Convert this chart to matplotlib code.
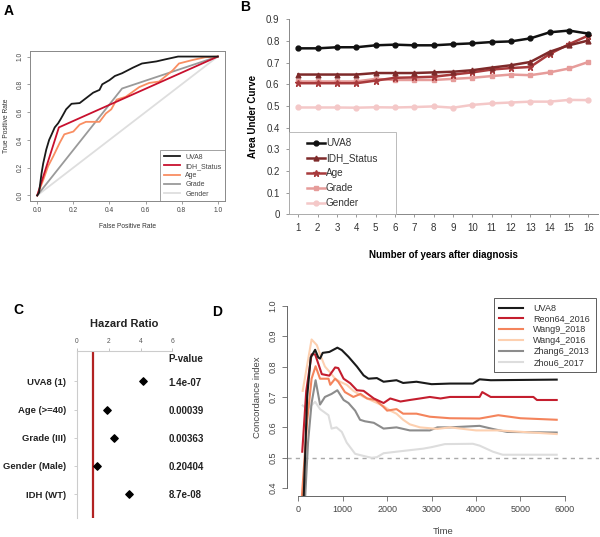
import matplotlib
matplotlib.use("Agg")
import matplotlib.pyplot as plt
from matplotlib.lines import Line2D

plt.rcParams['font.family'] = ['Liberation Sans', 'DejaVu Sans']

W, H = 600, 537

# ---------------- Panel A data (ROC) ----------------
roc_uva8_fpr = [0, 0.01, 0.024, 0.033, 0.05, 0.066, 0.08, 0.097, 0.116, 0.13, 0.143, 0.16, 0.19,
                0.235, 0.27, 0.31, 0.345, 0.36, 0.40, 0.43, 0.47, 0.53, 0.58, 0.66, 0.71, 0.78, 1.0]
roc_uva8_tpr = [0, 0.02, 0.16, 0.23, 0.33, 0.40, 0.44, 0.49, 0.52, 0.55, 0.58, 0.62, 0.66,
                0.665, 0.70, 0.74, 0.76, 0.80, 0.83, 0.86, 0.88, 0.92, 0.95, 0.965, 0.98, 1.0, 1.0]
roc_idh_fpr = [0, 0.12, 1.0]
roc_idh_tpr = [0, 0.49, 1.0]
roc_age_fpr = [0, 0.033, 0.06, 0.088, 0.125, 0.15, 0.2, 0.235, 0.27, 0.345, 0.38, 0.41, 0.44,
               0.49, 0.565, 0.62, 0.675, 0.75, 0.785, 0.86, 0.93, 1.0]
roc_age_tpr = [0, 0.11, 0.21, 0.28, 0.38, 0.44, 0.46, 0.51, 0.53, 0.53, 0.59, 0.62, 0.69,
               0.71, 0.78, 0.81, 0.82, 0.90, 0.95, 0.975, 0.995, 1.0]
roc_grade_fpr = [0, 0.47, 1.0]
roc_grade_tpr = [0, 0.77, 1.0]
roc_gender_fpr = [0, 1.0]
roc_gender_tpr = [0, 1.0]
roc_labels = ["UVA8", "IDH_Status", "Age", "Grade", "Gender"]
roc_colors = ["#1a1a1a", "#C8102E", "#F98E62", "#9a9a9a", "#DEDEDE"]

# ---------------- Panel B data (AUC by year) ----------------
years = list(range(1, 17))
auc_uva8 = [0.766, 0.766, 0.771, 0.771, 0.78, 0.783, 0.78, 0.78, 0.785, 0.789, 0.795, 0.798, 0.812, 0.84, 0.848, 0.834]
auc_idh = [0.645, 0.645, 0.645, 0.645, 0.652, 0.652, 0.652, 0.655, 0.658, 0.665, 0.677, 0.688, 0.703, 0.75, 0.78, 0.802]
auc_age = [0.605, 0.605, 0.605, 0.605, 0.617, 0.63, 0.632, 0.635, 0.645, 0.655, 0.668, 0.675, 0.68, 0.74, 0.785, 0.825]
auc_grade = [0.613, 0.613, 0.613, 0.613, 0.625, 0.62, 0.62, 0.62, 0.625, 0.63, 0.638, 0.645, 0.642, 0.655, 0.673, 0.703]
auc_gender = [0.493, 0.493, 0.493, 0.492, 0.494, 0.493, 0.495, 0.498, 0.492, 0.505, 0.512, 0.516, 0.52, 0.52, 0.528, 0.527]
auc_labels = ["UVA8", "IDH_Status", "Age", "Grade", "Gender"]
auc_colors = ["#111111", "#7E2A2A", "#A83A3C", "#E69C9A", "#F4C8C8"]
auc_markers = ["o", "^", "*", "s", "o"]

# ---------------- Panel C data (hazard ratios) ----------------
hr_labels = ["UVA8 (1)", "Age (>=40)", "Grade (III)", "Gender (Male)", "IDH (WT)"]
hr_values = [4.15, 1.87, 2.3, 1.28, 3.3]
hr_pvalues = ["1.4e-07", "0.00039", "0.00363", "0.20404", "8.7e-08"]
hr_ticks = [0, 2, 4, 6]

# ---------------- Panel D data (concordance index over time) ----------------
ci_uva8_t = [120, 200, 280, 380, 450, 490, 550, 700, 880, 980, 1130, 1320, 1470, 1580, 1770, 1920,
             2210, 2360, 2660, 3000, 3413, 3930, 4080, 4330, 5815]
ci_uva8_v = [0.36, 0.70, 0.83, 0.855, 0.83, 0.826, 0.845, 0.848, 0.862, 0.854, 0.832, 0.80, 0.771, 0.76,
             0.762, 0.75, 0.755, 0.746, 0.75, 0.742, 0.744, 0.744, 0.758, 0.755, 0.757]
ci_reon_t = [90, 180, 300, 380, 530, 700, 830, 900, 1020, 1170, 1320, 1470, 1700, 1920, 2070, 2300,
             2510, 2740, 2960, 3200, 3413, 4080, 4140, 4330, 5290, 5370, 5815]
ci_reon_v = [0.52, 0.72, 0.84, 0.84, 0.775, 0.77, 0.797, 0.795, 0.76, 0.745, 0.722, 0.72, 0.695, 0.68,
             0.695, 0.685, 0.69, 0.695, 0.70, 0.695, 0.70, 0.70, 0.716, 0.70, 0.70, 0.69, 0.69]
ci_wang9_t = [80, 200, 300, 390, 490, 680, 720, 830, 900, 1050, 1240, 1400, 1550, 1740, 1920, 2000,
              2210, 2360, 2660, 2960, 3413, 4080, 4500, 5000, 5815]
ci_wang9_v = [0.37, 0.62, 0.76, 0.801, 0.76, 0.76, 0.74, 0.76, 0.75, 0.716, 0.70, 0.71, 0.695, 0.69,
              0.667, 0.655, 0.66, 0.645, 0.645, 0.635, 0.63, 0.629, 0.64, 0.63, 0.625]
ci_wang4_t = [100, 300, 420, 490, 600, 720, 830, 940, 1090, 1240, 1470, 1700, 1920, 2070, 2210,
              2360, 2510, 2740, 3130, 3413, 4000, 4500, 5815]
ci_wang4_v = [0.72, 0.889, 0.87, 0.84, 0.80, 0.78, 0.76, 0.75, 0.74, 0.72, 0.70, 0.685, 0.67, 0.655,
              0.645, 0.625, 0.61, 0.60, 0.595, 0.60, 0.59, 0.59, 0.578]
ci_zhang6_t = [130, 220, 300, 390, 490, 600, 750, 880, 1020, 1130, 1280, 1390, 1500, 1700, 1920,
               2210, 2510, 2960, 3130, 3413, 4080, 4400, 4700, 5815]
ci_zhang6_v = [0.30, 0.55, 0.68, 0.755, 0.675, 0.70, 0.71, 0.722, 0.69, 0.68, 0.655, 0.625, 0.62,
               0.615, 0.596, 0.60, 0.59, 0.59, 0.60, 0.60, 0.605, 0.594, 0.585, 0.583]
ci_zhou6_t = [100, 200, 380, 490, 680, 750, 860, 980, 1090, 1280, 1500, 1650, 1770, 1920, 2210,
              2510, 2810, 3000, 3300, 3930, 4080, 4380, 4600, 5815]
ci_zhou6_v = [0.672, 0.66, 0.684, 0.66, 0.64, 0.596, 0.60, 0.585, 0.55, 0.513, 0.505, 0.50, 0.502,
              0.515, 0.52, 0.525, 0.53, 0.535, 0.545, 0.546, 0.54, 0.52, 0.51, 0.51]
ci_labels = ["UVA8", "Reon64_2016", "Wang9_2018", "Wang4_2016", "Zhang6_2013", "Zhou6_2017"]
ci_colors = ["#1a1a1a", "#C41E2E", "#F4845C", "#FDD0B0", "#8C8C8C", "#DDDDDD"]

fig = plt.figure(figsize=(W / 100, H / 100), dpi=100)


def ax_px(l, t, r, b):
    return fig.add_axes([l / W, 1 - b / H, (r - l) / W, (b - t) / H])


# ================= Panel A =================
axA = ax_px(30, 51, 225, 201)
series_a = [(roc_uva8_fpr, roc_uva8_tpr), (roc_idh_fpr, roc_idh_tpr), (roc_age_fpr, roc_age_tpr),
            (roc_grade_fpr, roc_grade_tpr), (roc_gender_fpr, roc_gender_tpr)]
handles_a = []
for i in [4, 3, 2, 1, 0]:
    x, y = series_a[i]
    axA.plot(x, y, color=roc_colors[i], lw=1.3, zorder=3 + (4 - i))
for i in range(5):
    handles_a.append(Line2D([], [], color=roc_colors[i], lw=1.3))
axA.set_xlim(-0.04, 1.04)
axA.set_ylim(-0.04, 1.04)
ticks01 = [0.0, 0.2, 0.4, 0.6, 0.8, 1.0]
axA.set_xticks(ticks01)
axA.set_yticks(ticks01)
axA.set_xticklabels([f"{t:.1f}" for t in ticks01], fontsize=4.8, color="#444444")
axA.set_yticklabels([f"{t:.1f}" for t in ticks01], fontsize=4.8, color="#444444", rotation=90, va="center")
axA.tick_params(length=2.5, width=0.5, color="#777777", pad=2)
for s in axA.spines.values():
    s.set_color("#888888")
    s.set_linewidth(0.7)
axA.set_xlabel("False Positive Rate", fontsize=4.8, color="#333333", labelpad=6)
axA.set_ylabel("True Positive Rate", fontsize=4.8, color="#333333", labelpad=5)
legA = axA.legend(handles_a, roc_labels, loc="lower right", fontsize=5.0, frameon=True,
                  fancybox=False, borderaxespad=0, handlelength=2.4, labelspacing=0.32,
                  borderpad=0.5, handletextpad=0.7)
legA.get_frame().set_edgecolor("#777777")
legA.get_frame().set_linewidth(0.6)
for t in legA.get_texts():
    t.set_color("#444444")

# ================= Panel B =================
axB = ax_px(288.6, 19.3, 598, 214.3)
series_b = [auc_uva8, auc_idh, auc_age, auc_grade, auc_gender]
for i in [4, 3, 2, 1, 0]:
    ms = 4.5 if auc_markers[i] == "*" else 3.5
    axB.plot(years, series_b[i], color=auc_colors[i], lw=1.8, marker=auc_markers[i], ms=ms,
             zorder=3 + (4 - i), label=auc_labels[i])
axB.set_xlim(0.5, 16.5)
axB.set_ylim(0, 0.9)
axB.set_xticks(years)
axB.set_xticklabels([str(y) for y in years], fontsize=7, color="#333333")
yt = [0, 0.1, 0.2, 0.3, 0.4, 0.5, 0.6, 0.7, 0.8, 0.9]
axB.set_yticks(yt)
axB.set_yticklabels(["0"] + [f"{v:.1f}" for v in yt[1:]], fontsize=7, color="#333333")
axB.tick_params(axis="both", length=2.5, width=0.6, color="#888888", pad=4)
axB.spines["top"].set_visible(False)
axB.spines["right"].set_visible(False)
axB.spines["left"].set_color("#888888")
axB.spines["bottom"].set_color("#888888")
axB.spines["left"].set_linewidth(0.7)
axB.spines["bottom"].set_linewidth(0.7)
axB.set_xlabel("Number of years after diagnosis", fontsize=7, fontweight="bold", labelpad=12)
axB.set_ylabel("Area Under Curve", fontsize=7, fontweight="bold", labelpad=6)
hb, lb = axB.get_legend_handles_labels()
hb = hb[::-1]
lb = lb[::-1]
legB = axB.legend(hb, lb, loc="lower left", bbox_to_anchor=(0.0, 0.0), fontsize=7.2, frameon=True,
                  fancybox=False, borderaxespad=0, handlelength=1.8, handletextpad=0.1,
                  labelspacing=0.5, borderpad=0.6)
legB.get_frame().set_edgecolor("#aaaaaa")
legB.get_frame().set_linewidth(0.7)
for t in legB.get_texts():
    t.set_color("#333333")
legB._legend_box.set_width(95)

# ================= Panel C =================
axC = ax_px(77, 350.5, 172.3, 518)
rows = list(range(len(hr_labels)))
axC.set_xlim(0, 6)
axC.set_ylim(4.85, -1.1)
axC.axvline(1, color="#B22222", lw=1.6, zorder=2)
axC.scatter(hr_values, rows, marker="D", s=14, color="black", zorder=3)
axC.set_xticks(hr_ticks)
axC.set_xticklabels([str(t) for t in hr_ticks], fontsize=4.8, color="#555555")
axC.xaxis.tick_top()
axC.tick_params(axis="x", length=2, width=0.5, color="#aaaaaa", pad=2)
axC.set_yticks(rows)
axC.set_yticklabels(hr_labels, fontsize=6.8, fontweight="bold", color="#222222")
axC.tick_params(axis="y", length=2, width=0.5, color="#bbbbbb", pad=6)
axC.spines["right"].set_visible(False)
axC.spines["bottom"].set_visible(False)
axC.spines["top"].set_color("#cccccc")
axC.spines["left"].set_color("#cccccc")
axC.spines["top"].set_linewidth(0.8)
axC.spines["left"].set_linewidth(0.8)
axC.text(5.75, -0.81, "P-value", fontsize=7, fontweight="bold", va="center", ha="left", color="#222222")
for r, p in zip(rows, hr_pvalues):
    axC.text(5.75, r + 0.04, p, fontsize=7, fontweight="bold", va="center", ha="left", color="#222222")
axC.set_title("Hazard Ratio", fontsize=8, fontweight="bold", color="#222222", pad=17)
axC.set_facecolor("none")

# ================= Panel D =================
axD = ax_px(286.7, 298.4, 598.7, 495.5)
series_d = [(ci_uva8_t, ci_uva8_v), (ci_reon_t, ci_reon_v), (ci_wang9_t, ci_wang9_v),
            (ci_wang4_t, ci_wang4_v), (ci_zhang6_t, ci_zhang6_v), (ci_zhou6_t, ci_zhou6_v)]
axD.axhline(0.5, color="#aaaaaa", lw=1.0, ls=(0, (3, 3)), zorder=1)
for i in [5, 4, 3, 2, 1, 0]:
    x, y = series_d[i]
    axD.plot(x, y, color=ci_colors[i], lw=1.5, zorder=3 + (5 - i))
axD.set_xlim(-260, 6760)
axD.set_ylim(0.376, 1.024)
xt = [0, 1000, 2000, 3000, 4000, 5000, 6000]
axD.set_xticks(xt)
axD.set_xticklabels([str(v) for v in xt], fontsize=6.5, color="#444444")
ytd = [0.4, 0.5, 0.6, 0.7, 0.8, 0.9, 1.0]
axD.set_yticks(ytd)
axD.set_yticklabels([f"{v:.1f}" for v in ytd], fontsize=6.5, color="#444444", rotation=90, va="center")
axD.tick_params(length=3.5, width=0.6, color="#666666", pad=3)
axD.spines["top"].set_visible(False)
axD.spines["right"].set_visible(False)
axD.spines["left"].set_bounds(0.4, 1.0)
axD.spines["bottom"].set_bounds(0, 6000)
axD.spines["left"].set_color("#666666")
axD.spines["bottom"].set_color("#666666")
axD.spines["left"].set_linewidth(0.7)
axD.spines["bottom"].set_linewidth(0.7)
axD.set_xlabel("Time", fontsize=6.8, color="#444444", labelpad=10)
axD.set_ylabel("Concordance index", fontsize=6.8, color="#444444", labelpad=5)
hd = [Line2D([], [], color=ci_colors[i], lw=1.5) for i in range(6)]
legD = axD.legend(hd, ci_labels, loc="upper right", bbox_to_anchor=(0.99, 1.0), fontsize=6.5,
                  frameon=True, fancybox=False, borderaxespad=0, handlelength=2.6,
                  labelspacing=0.2, borderpad=0.6, handletextpad=1.2)
legD.get_frame().set_edgecolor("#333333")
legD.get_frame().set_linewidth(0.7)
for t in legD.get_texts():
    t.set_color("#333333")

# ================= Panel labels =================
for lab, x, y in [("A", 9, 11), ("B", 245, 7), ("C", 18, 310), ("D", 217, 312)]:
    fig.text(x / W, 1 - y / H, lab, fontsize=10, fontweight="bold", ha="center", va="center")

fig.savefig("out.png", dpi=100)
